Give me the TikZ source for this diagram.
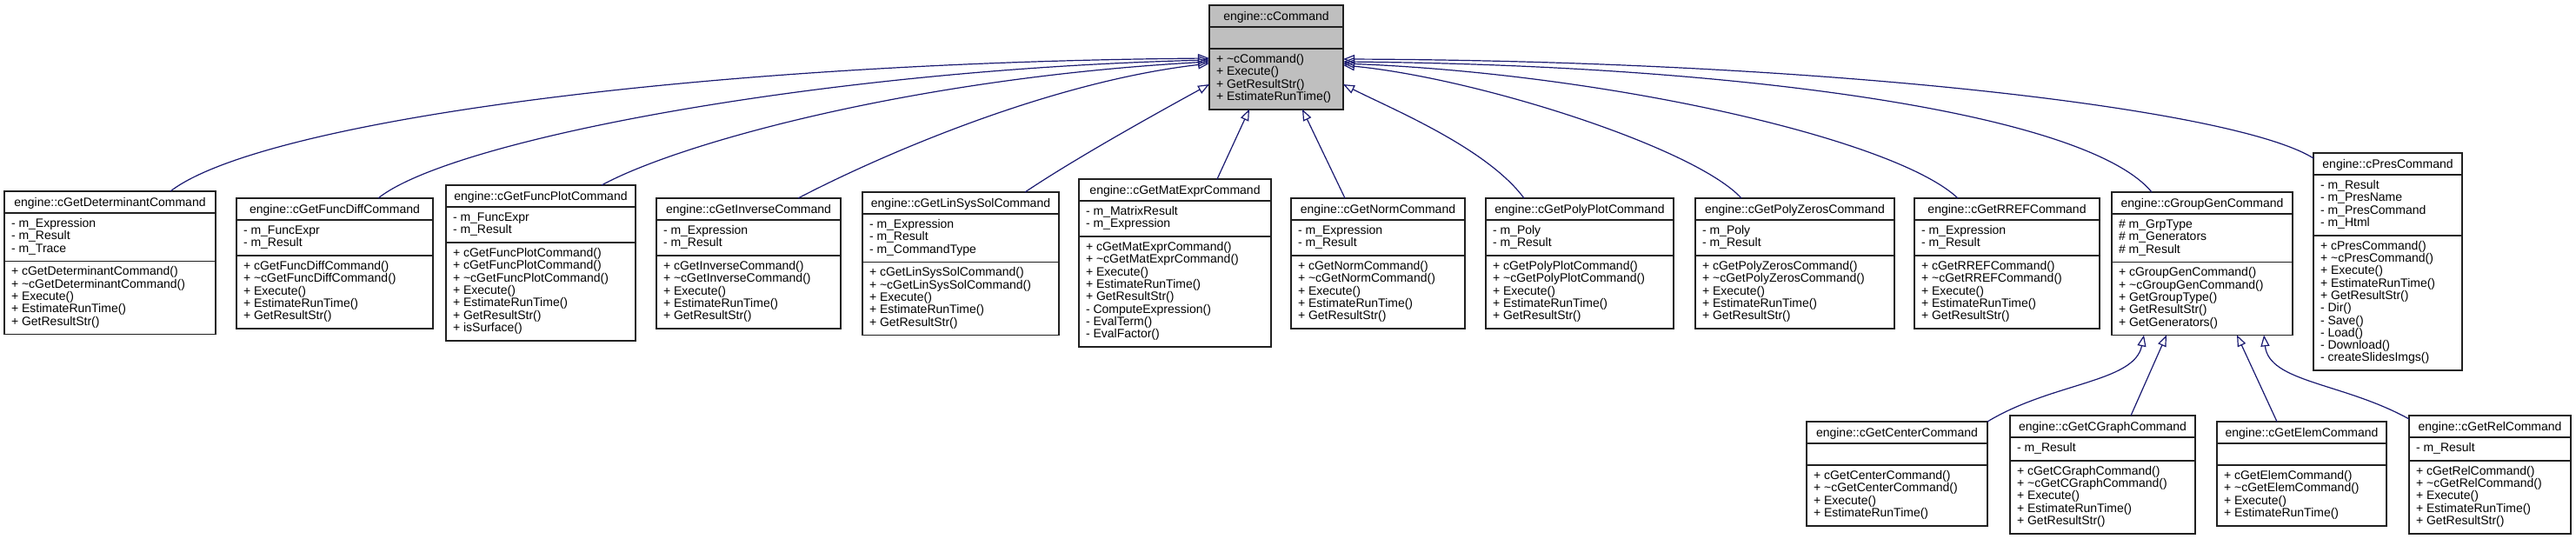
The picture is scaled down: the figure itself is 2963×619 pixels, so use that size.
\documentclass[tikz,border=0pt]{standalone}
\usepackage{fontspec}
\setmainfont{Liberation Sans}
\usetikzlibrary{arrows.meta}
\definecolor{edgeblue}{HTML}{191970}
\definecolor{cmdgray}{HTML}{BFBFBF}
\definecolor{boxline}{HTML}{202020}
\tikzset{
 classbox/.style={draw=boxline, line width=1.6pt, inner sep=0pt, outer sep=0pt, fill=white},
 sepline/.style={draw=boxline, line width=1.6pt},
 txt/.style={inner sep=0pt, outer sep=0pt, font=\fontsize{14}{16}\selectfont},
 inh/.style={draw=edgeblue, line width=1.2pt, -{Triangle[open, length=13pt, width=10pt, line width=1.2pt]}},
}
\newcommand\umlclass[9]{%
 \pgfmathsetmacro\yh{#3+25}%
 \pgfmathsetmacro\ya{(#6==0) ? (\yh+25) : (\yh+14.3*#6+12.5)}%
 \pgfmathsetmacro\yb{\ya+14.3*#8+12.5}%
 \pgfmathsetmacro\bw{#4-#2}%
 \pgfmathsetmacro\bh{\yb-#3}%
 \node[classbox, minimum width=\bw pt, minimum height=\bh pt, anchor=north west] (#1) at (#2,#3) {};
 \draw[sepline] (#2,\yh) -- (#4,\yh);
 \draw[sepline] (#2,\ya) -- (#4,\ya);
 \node[txt, anchor=base] (#1-t) at ({(#2+#4)/2},{#3+17.5}) {engine::#5};
 \ifnum#6>0
 \foreach \s [count=\i] in {#7} {\node[txt, anchor=base west] (#1-a\i) at ({#2+8},{\yh+16.5+14.3*(\i-1)}) {\s};}
 \fi
 \foreach \s [count=\i] in {#9} {\node[txt, anchor=base west] (#1-m\i) at ({#2+8},{\ya+16.5+14.3*(\i-1)}) {\s};}
}
\begin{document}
\begin{tikzpicture}[x=1pt,y=-1pt]
\useasboundingbox (0,0) rectangle (2963,619);
\begin{scope}[classbox/.append style={fill=cmdgray}]
\umlclass{cmd}{1391}{6}{1545}{cCommand}{0}{}{4}{+ \textasciitilde cCommand(), + Execute(), + GetResultStr(), + EstimateRunTime()}
\end{scope}
\umlclass{det}{5}{220}{248}{cGetDeterminantCommand}{3}{- m\_Expression, - m\_Result, - m\_Trace}{5}{+ cGetDeterminantCommand(), + \textasciitilde cGetDeterminantCommand(), + Execute(), + EstimateRunTime(), + GetResultStr()}
\umlclass{fdiff}{272}{228}{498}{cGetFuncDiffCommand}{2}{- m\_FuncExpr, - m\_Result}{5}{+ cGetFuncDiffCommand(), + \textasciitilde cGetFuncDiffCommand(), + Execute(), + EstimateRunTime(), + GetResultStr()}
\umlclass{fplot}{513}{213}{731}{cGetFuncPlotCommand}{2}{- m\_FuncExpr, - m\_Result}{7}{+ cGetFuncPlotCommand(), + cGetFuncPlotCommand(), + \textasciitilde cGetFuncPlotCommand(), + Execute(), + EstimateRunTime(), + GetResultStr(), + isSurface()}
\umlclass{inv}{755}{228}{967}{cGetInverseCommand}{2}{- m\_Expression, - m\_Result}{5}{+ cGetInverseCommand(), + \textasciitilde cGetInverseCommand(), + Execute(), + EstimateRunTime(), + GetResultStr()}
\umlclass{lin}{992}{221}{1218}{cGetLinSysSolCommand}{3}{- m\_Expression, - m\_Result, - m\_CommandType}{5}{+ cGetLinSysSolCommand(), + \textasciitilde cGetLinSysSolCommand(), + Execute(), + EstimateRunTime(), + GetResultStr()}
\umlclass{mat}{1241}{206}{1462}{cGetMatExprCommand}{2}{- m\_MatrixResult, - m\_Expression}{8}{+ cGetMatExprCommand(), + \textasciitilde cGetMatExprCommand(), + Execute(), + EstimateRunTime(), + GetResultStr(), - ComputeExpression(), - EvalTerm(), - EvalFactor()}
\umlclass{norm}{1485}{228}{1685}{cGetNormCommand}{2}{- m\_Expression, - m\_Result}{5}{+ cGetNormCommand(), + \textasciitilde cGetNormCommand(), + Execute(), + EstimateRunTime(), + GetResultStr()}
\umlclass{pplot}{1709}{228}{1925}{cGetPolyPlotCommand}{2}{- m\_Poly, - m\_Result}{5}{+ cGetPolyPlotCommand(), + \textasciitilde cGetPolyPlotCommand(), + Execute(), + EstimateRunTime(), + GetResultStr()}
\umlclass{pzero}{1950}{228}{2179}{cGetPolyZerosCommand}{2}{- m\_Poly, - m\_Result}{5}{+ cGetPolyZerosCommand(), + \textasciitilde cGetPolyZerosCommand(), + Execute(), + EstimateRunTime(), + GetResultStr()}
\umlclass{rref}{2202}{228}{2415}{cGetRREFCommand}{2}{- m\_Expression, - m\_Result}{5}{+ cGetRREFCommand(), + \textasciitilde cGetRREFCommand(), + Execute(), + EstimateRunTime(), + GetResultStr()}
\umlclass{grp}{2429}{221}{2637}{cGroupGenCommand}{3}{\# m\_GrpType, \# m\_Generators, \# m\_Result}{5}{+ cGroupGenCommand(), + \textasciitilde cGroupGenCommand(), + GetGroupType(), + GetResultStr(), + GetGenerators()}
\umlclass{pres}{2661}{176}{2832}{cPresCommand}{4}{- m\_Result, - m\_PresName, - m\_PresCommand, - m\_Html}{10}{+ cPresCommand(), + \textasciitilde cPresCommand(), + Execute(), + EstimateRunTime(), + GetResultStr(), - Dir(), - Save(), - Load(), - Download(), - createSlidesImgs()}
\umlclass{ctr}{2078}{485}{2286}{cGetCenterCommand}{0}{}{4}{+ cGetCenterCommand(), + \textasciitilde cGetCenterCommand(), + Execute(), + EstimateRunTime()}
\umlclass{cgr}{2312}{478}{2525}{cGetCGraphCommand}{1}{- m\_Result}{5}{+ cGetCGraphCommand(), + \textasciitilde cGetCGraphCommand(), + Execute(), + EstimateRunTime(), + GetResultStr()}
\umlclass{elem}{2550}{485}{2745}{cGetElemCommand}{0}{}{4}{+ cGetElemCommand(), + \textasciitilde cGetElemCommand(), + Execute(), + EstimateRunTime()}
\umlclass{rel}{2771}{478}{2957}{cGetRelCommand}{1}{- m\_Result}{5}{+ cGetRelCommand(), + \textasciitilde cGetRelCommand(), + Execute(), + EstimateRunTime(), + GetResultStr()}
% inheritance edges
\draw[inh] ([xshift=69.5pt]det.north) .. controls (300,140) and (800,72) .. ([yshift=-61pt]cmd.north west);
\draw[inh] ([xshift=50pt]fdiff.north) .. controls (520,160) and (950,80) .. ([yshift=-63pt]cmd.north west);
\draw[inh] ([xshift=70pt]fplot.north) .. controls (780,165) and (1050,90) .. ([yshift=-65pt]cmd.north west);
\draw[inh] ([xshift=57pt]inv.north) .. controls (1000,185) and (1200,95) .. ([yshift=-67pt]cmd.north west);
\draw[inh] ([xshift=74pt]lin.north) .. controls (1240,180) and (1340,125) .. ([yshift=-91pt]cmd.north west);
\draw[inh] ([xshift=48.5pt]mat.north) -- ([xshift=-31pt]cmd.south);
\draw[inh] ([xshift=-38pt]norm.north) -- ([xshift=30pt]cmd.south);
\draw[inh] ([xshift=-64pt]pplot.north) .. controls (1710,170) and (1600,125) .. ([yshift=-91pt]cmd.north east);
\draw[inh] ([xshift=-61.5pt]pzero.north) .. controls (1950,170) and (1700,90) .. ([yshift=-69pt]cmd.north east);
\draw[inh] ([xshift=-56.5pt]rref.north) .. controls (2180,160) and (1850,85) .. ([yshift=-67pt]cmd.north east);
\draw[inh] ([xshift=-58pt]grp.north) .. controls (2400,130) and (2000,75) .. ([yshift=-65pt]cmd.north east);
\draw[inh] ([yshift=-6pt]pres.north west) .. controls (2570,125) and (2100,70) .. ([yshift=-62pt]cmd.north east);
\draw[inh] (ctr.north east) .. controls (2360,440) and (2455,440) .. ([xshift=-67pt]grp.south);
\draw[inh] ([xshift=32.5pt]cgr.north) -- ([xshift=-41pt]grp.south);
\draw[inh] ([xshift=-28.5pt]elem.north) -- ([xshift=40pt]grp.south);
\draw[inh] ([yshift=-4pt]rel.north west) .. controls (2695,440) and (2610,440) .. ([xshift=71pt]grp.south);
\end{tikzpicture}
\end{document}
